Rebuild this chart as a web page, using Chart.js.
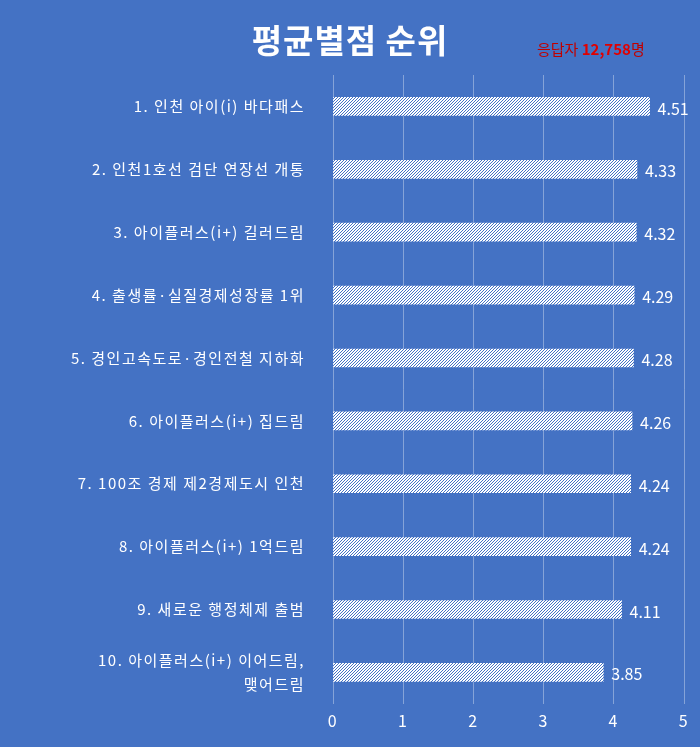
<!DOCTYPE html>
<html><head><meta charset="utf-8">
<script src="https://cdn.jsdelivr.net/npm/chart.js@4/dist/chart.umd.min.js"></script>
<style>
html,body{margin:0;padding:0;background:#4472C4;}
#wrap{width:700px;height:747px;position:relative;}
</style></head>
<body><div id="wrap"><canvas id="c" width="700" height="747"></canvas></div>
<script>
const categories = [
  '1. 인천 아이(i) 바다패스',
  '2. 인천1호선 검단 연장선 개통',
  '3. 아이플러스(i+) 길러드림',
  '4. 출생률·실질경제성장률 1위',
  '5. 경인고속도로·경인전철 지하화',
  '6. 아이플러스(i+) 집드림',
  '7. 100조 경제 제2경제도시 인천',
  '8. 아이플러스(i+) 1억드림',
  '9. 새로운 행정체제 출범',
  ['10. 아이플러스(i+) 이어드림,', '맺어드림']
];
const scores = [4.51, 4.33, 4.32, 4.29, 4.28, 4.26, 4.24, 4.24, 4.11, 3.85];
const xTicks = [0, 1, 2, 3, 4, 5];

// white bar with fine diagonal blue hatching
const pc = document.createElement('canvas');
pc.width = 3; pc.height = 3;
const p = pc.getContext('2d');
p.fillStyle = '#ffffff'; p.fillRect(0, 0, 3, 3);
p.fillStyle = '#4472C4';
p.fillRect(2, 0, 1, 1); p.fillRect(1, 1, 1, 1); p.fillRect(0, 2, 1, 1);
const hatch = p.createPattern(pc, 'repeat');

const spacing = {
  id: 'spacing',
  beforeDraw(chart) { chart.ctx.letterSpacing = '1.5px'; },
  afterDraw(chart) { chart.ctx.letterSpacing = '0px'; }
};

const extras = {
  id: 'extras',
  afterDatasetsDraw(chart) {
    const ctx = chart.ctx;
    ctx.save();
    ctx.letterSpacing = '0px';
    ctx.fillStyle = '#ffffff';
    ctx.font = '16px "Noto Sans CJK KR"';
    ctx.textBaseline = 'middle';
    chart.getDatasetMeta(0).data.forEach((bar, i) => {
      ctx.fillText(scores[i].toFixed(2), bar.x + 8, bar.y + 2);
    });
    ctx.font = 'bold 33px "Noto Sans CJK KR"';
    ctx.letterSpacing = '1px';
    ctx.textAlign = 'center';
    ctx.fillText('평균별점 순위', 350, 40);
    ctx.letterSpacing = '0px';
    ctx.textAlign = 'left';
    ctx.font = '15px "Noto Sans CJK KR"';
    ctx.fillStyle = '#C00000';
    ctx.fillText('응답자 ', 537, 49);
    let x = 537 + ctx.measureText('응답자 ').width;
    ctx.font = 'bold 15px "Noto Sans CJK KR"';
    ctx.fillStyle = '#E00000';
    ctx.fillText('12,758', x, 49);
    x += ctx.measureText('12,758').width;
    ctx.font = '15px "Noto Sans CJK KR"';
    ctx.fillStyle = '#C00000';
    ctx.fillText('명', x, 49);
    ctx.restore();
  }
};

new Chart(document.getElementById('c').getContext('2d'), {
  type: 'bar',
  data: {
    labels: categories,
    datasets: [{ data: scores, backgroundColor: hatch, borderWidth: 0, barThickness: 18 }]
  },
  options: {
    indexAxis: 'y',
    responsive: false,
    animation: false,
    layout: { padding: { top: 75, bottom: 8, right: 16, left: 0 } },
    plugins: { legend: { display: false }, tooltip: { enabled: false } },
    scales: {
      x: {
        min: 0, max: 5,
        afterBuildTicks: axis => { axis.ticks = xTicks.map(v => ({ value: v })); },
        grid: { color: 'rgba(255,255,255,0.35)', drawTicks: false },
        border: { display: false },
        ticks: { color: '#ffffff', font: { size: 16, family: '"Noto Sans CJK KR"' }, padding: 8 }
      },
      y: {
        afterFit: axis => { axis.width = 333; },
        grid: { display: false },
        border: { display: false },
        ticks: { color: '#ffffff', font: { size: 15, family: '"Noto Sans CJK KR"', lineHeight: 1.6 }, padding: 20 }
      }
    }
  },
  plugins: [spacing, extras]
});
</script></body></html>
